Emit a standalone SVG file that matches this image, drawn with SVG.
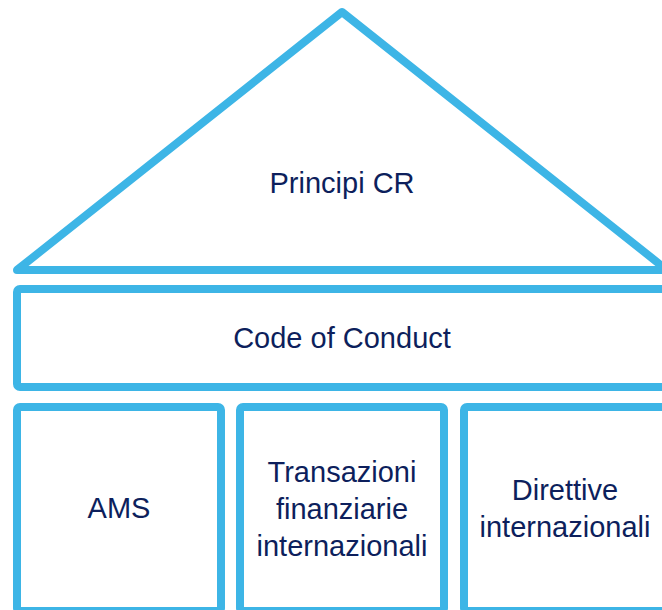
<svg xmlns="http://www.w3.org/2000/svg" width="662" height="610" viewBox="0 0 662 610">
<style>
.sh{fill:#ffffff;stroke:#3db5e6;stroke-width:8;stroke-linejoin:round}
.t{font-family:"Liberation Sans",Arial,sans-serif;font-size:29px;fill:#0d1f5c;text-anchor:middle}
</style>
<rect width="662" height="610" fill="#ffffff"/>
<g id="roof">
<polygon class="sh" points="342,12 667,270 17,270"/>
<text class="t" x="342" y="193">Principi CR</text>
</g>
<g id="code">
<rect class="sh" x="17" y="289" width="660" height="98" rx="3"/>
<text class="t" x="342" y="348">Code of Conduct</text>
</g>
<g id="ams">
<rect class="sh" x="17" y="407" width="204" height="204" rx="3"/>
<text class="t" x="119" y="518">AMS</text>
</g>
<g id="transazioni">
<rect class="sh" x="240" y="407" width="204" height="204" rx="3"/>
<text class="t" x="342" y="482">Transazioni</text>
<text class="t" x="342" y="519">finanziarie</text>
<text class="t" x="342" y="556">internazionali</text>
</g>
<g id="direttive">
<rect class="sh" x="464" y="407" width="204" height="204" rx="3"/>
<text class="t" x="565" y="500">Direttive</text>
<text class="t" x="565" y="537">internazionali</text>
</g>
<g id="connectors"></g>
</svg>
